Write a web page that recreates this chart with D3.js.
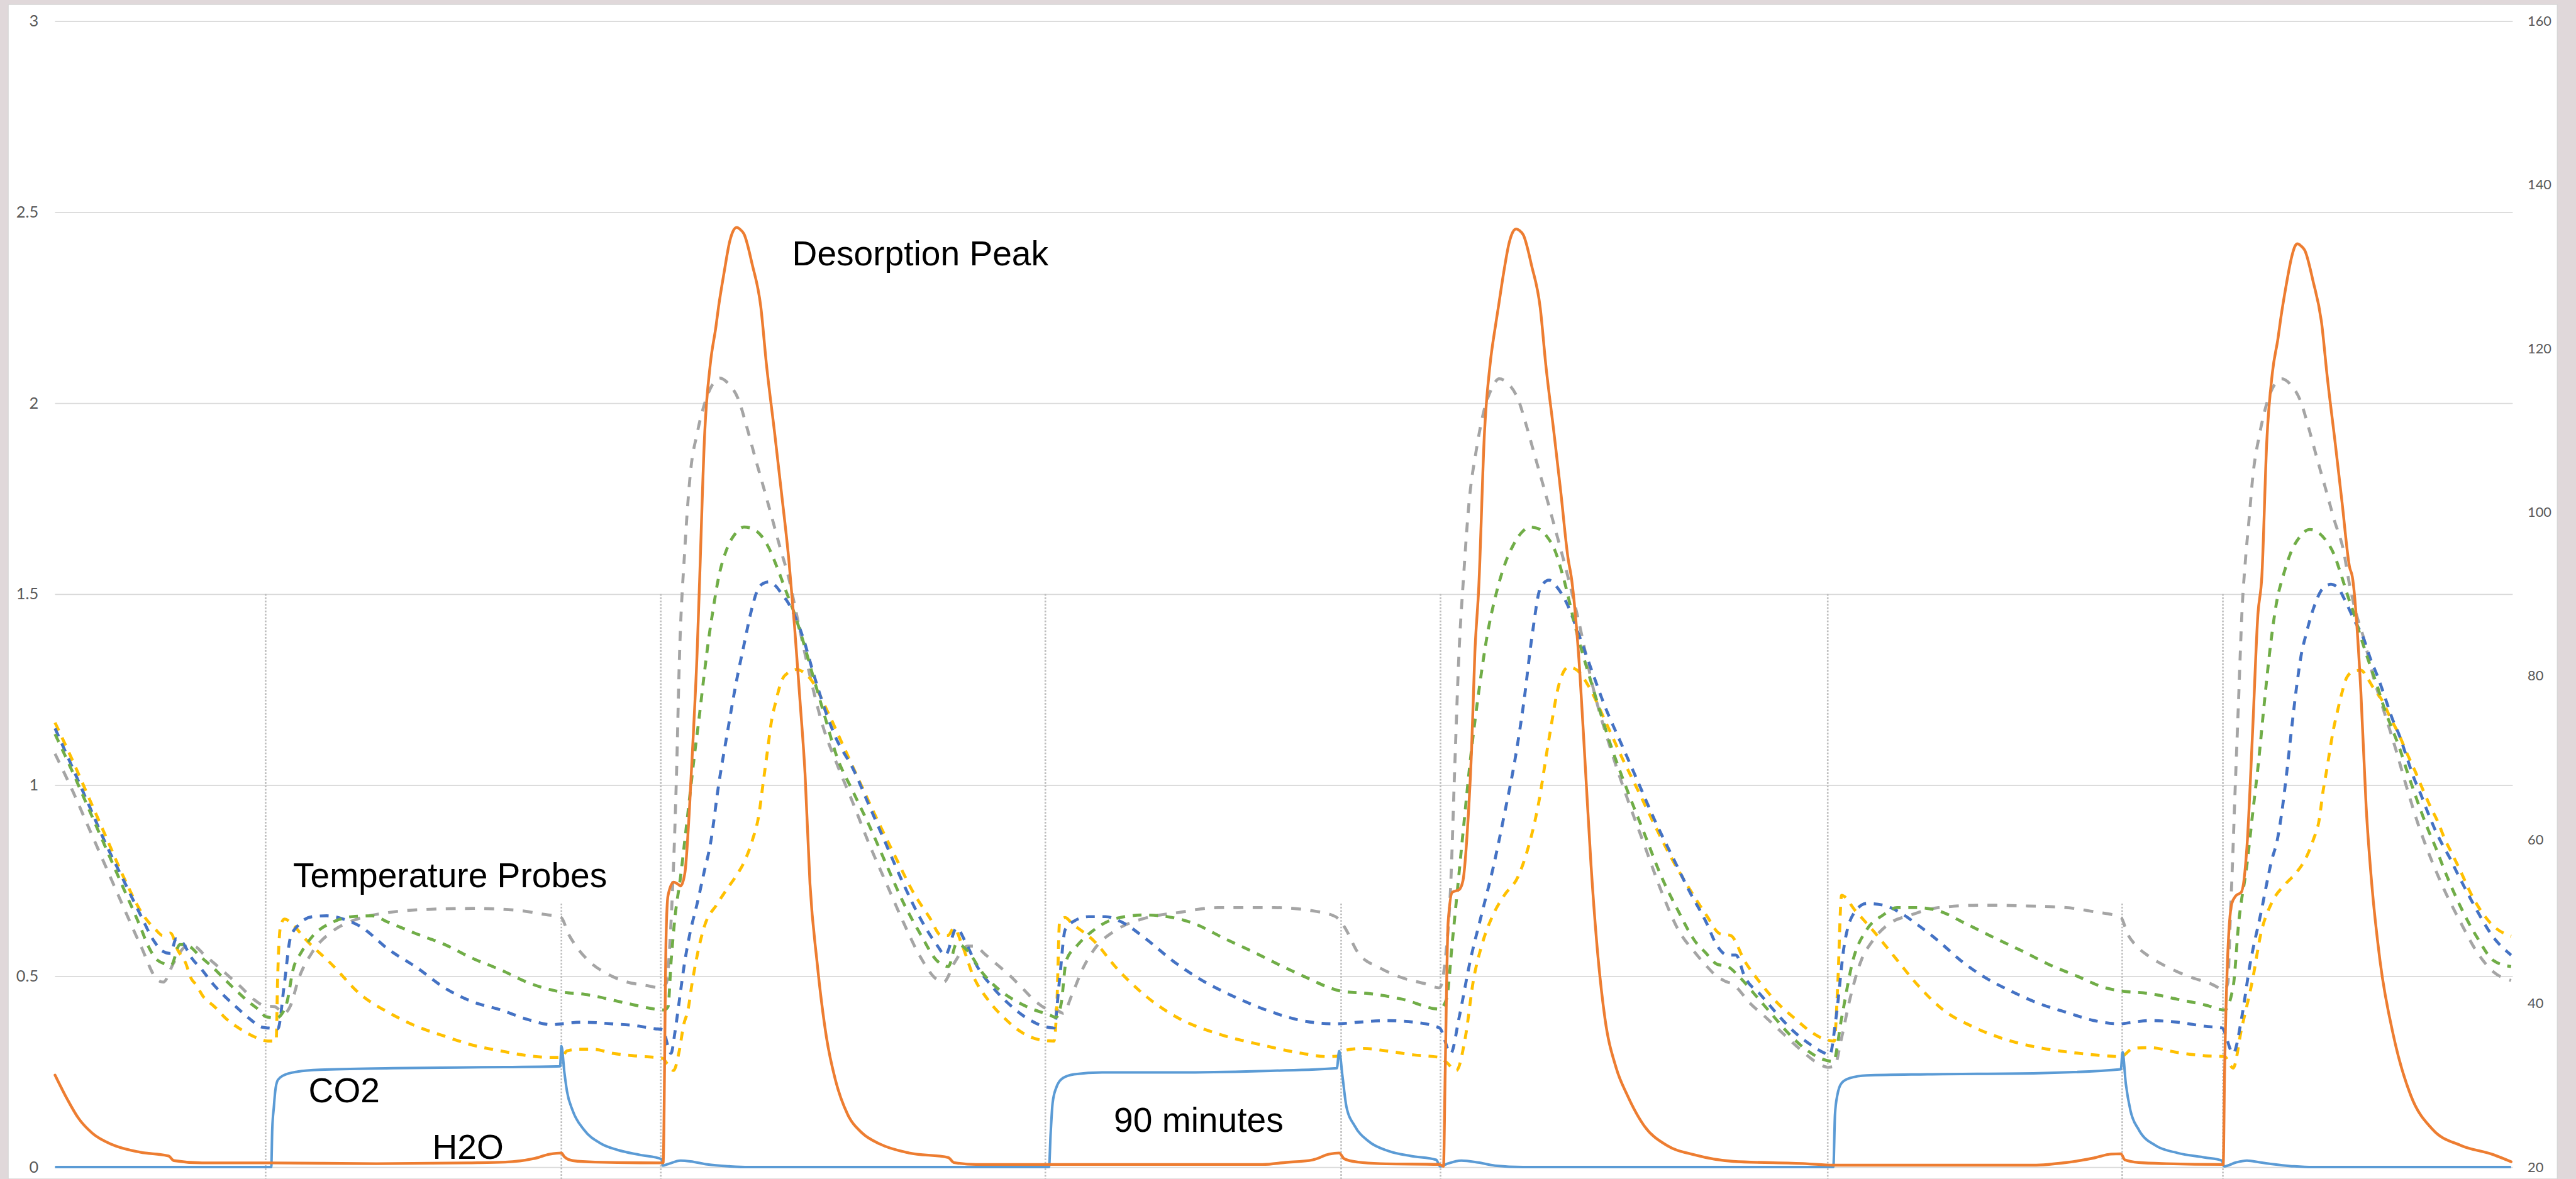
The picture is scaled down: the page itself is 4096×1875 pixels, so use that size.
<!DOCTYPE html>
<html>
<head>
<meta charset="utf-8">
<script src="https://cdn.jsdelivr.net/npm/d3@7"></script>
<style>
  html, body { margin: 0; padding: 0; background: #e0d8da; overflow: hidden; }
</style>
</head>
<body>
<div id="chart-container"></div>
<script>
// time axis is in minutes, left axis is gas signal, right axis is temperature (C)

// orange solid line (H2O / desorption peak), [minutes, signal]
const h2o = [[0,.241],[3.7,.178],[7.1,.128],[11.4,.088],[17.3,.059],[25.8,.039],[34.4,.029],[36,.017],[44.5,.011],[65,.011],[97.3,.009],[125,.011],[136.4,.013],[144.9,.022],[150,.034],[153.4,.037],[154.3,.027],[156.8,.017],[163.6,.013],[184.2,.011],[185.1,.6],[185.7,.711],[187.4,.746],[188.5,.742],[189.5,.736],[190.8,.77],[192.2,.94],[193.4,1.14],[194.5,1.345],[195.2,1.52],[196.8,1.921],[198.5,2.102],[200.2,2.2],[201,2.252],[202.7,2.343],[204.4,2.424],[205.5,2.452],[206.5,2.46],[207.5,2.455],[208.7,2.443],[211.2,2.363],[213.8,2.252],[215.5,2.102],[218,1.921],[220,1.77],[222.3,1.589],[224,1.418],[225.7,1.218],[227.2,1.03],[228.7,.741],[230.8,.54],[233.7,.339],[236.4,.228],[240.1,.138],[244.4,.09],[250,.06],[258.7,.037],[270.6,.025],[272.3,.012],[279,.007],[365.8,.007],[372.6,.012],[381,.019],[386,.034],[389,.037],[390.5,.022],[394.7,.013],[401.5,.009],[419.4,.007],[420.6,.002],[421.1,.24],[422,.64],[423.3,.72],[425.3,.726],[426.5,.75],[427.9,.89],[429.1,1.09],[430.1,1.345],[431.3,1.52],[433,1.92],[434.7,2.1],[436.3,2.2],[437.2,2.25],[438.8,2.34],[440.5,2.42],[441.6,2.448],[442.6,2.456],[443.6,2.452],[444.8,2.44],[447.3,2.36],[449.9,2.25],[451.6,2.1],[454.1,1.92],[456.1,1.77],[458.4,1.59],[459.3,1.546],[461.9,1.295],[463.6,1.043],[465.3,.79],[467,.59],[469.5,.39],[472.9,.26],[476.3,.188],[481.4,.108],[488.2,.057],[496.7,.032],[508.4,.015],[530.3,.009],[538.7,.005],[599.2,.005],[609.3,.012],[617.7,.024],[622.8,.034],[625.8,.035],[627,.019],[631.2,.012],[639.6,.009],[656.8,.007],[657.2,.24],[658.1,.54],[659.4,.69],[660.6,.71],[662.3,.72],[664,.84],[665.7,1.14],[667.3,1.446],[668.5,1.546],[670,1.9],[671.7,2.08],[673.4,2.17],[674.2,2.22],[675.9,2.31],[677.6,2.385],[678.5,2.41],[679.3,2.417],[680.3,2.412],[681.5,2.4],[684,2.32],[686.6,2.21],[688.3,2.07],[690.8,1.89],[692.8,1.74],[695.1,1.57],[695.9,1.546],[698.5,1.244],[700.1,.943],[701.8,.741],[704.3,.54],[708.5,.339],[713.6,.188],[720.3,.098],[728.7,.057],[738.8,.032],[744,.014]];

// light blue solid line (CO2), [minutes, signal]
const co2 = [[0,0],[65.5,0],[65.8,.098],[66.3,.158],[66.7,.198],[67.5,.228],[69.2,.24],[73.5,.25],[80.3,.255],[102.4,.259],[136.4,.262],[153,.264],[153.4,.317],[154.3,.248],[155.1,.198],[156.8,.148],[160.2,.098],[165.3,.062],[170.4,.045],[177.2,.032],[183.7,.021],[184.1,.004],[185.7,.008],[189.5,.017],[192.5,.015],[197.6,.007],[204.4,.002],[210,0],[301.1,0],[301.6,.088],[302.2,.168],[303.3,.208],[305.3,.233],[308.7,.243],[317.2,.248],[342.7,.248],[368.2,.252],[388.3,.259],[389,.304],[390,.238],[391.2,.158],[393.7,.108],[398,.067],[404,.042],[410.8,.029],[418.4,.019],[419.6,.002],[421.8,.009],[426,.017],[431.1,.012],[436.2,.004],[444.7,0],[538.7,0],[539.2,.138],[539.9,.188],[541.2,.22],[543.7,.233],[548.8,.24],[567.3,.243],[600.9,.246],[625.8,.256],[626.3,.301],[627.3,.218],[628.7,.148],[631.2,.098],[636.2,.057],[643,.037],[651.4,.025],[656.4,.017],[657.1,.002],[660.6,.012],[664,.017],[668.2,.012],[678.3,.002],[684,0],[744,0]];

// temperature probes, [minutes, deg C]
const tempGray = [[0,70.5],[5.4,65.9],[10.5,61.2],[15.6,56.5],[20.7,51.8],[25.9,47.1],[31,42.9],[32.8,42.6],[36,45],[40,47],[42,47],[45.3,45.9],[48.8,44.7],[52.7,43.3],[55.8,42.2],[60.5,40.4],[63.5,39.7],[66.5,39.6],[69.5,38.8],[71.3,39.7],[73.8,43],[78,46.3],[84,48.8],[90.8,50.2],[101,51.1],[113.8,51.5],[126.5,51.6],[139.3,51.4],[147.8,50.9],[153.3,50.5],[155.5,48.5],[158,46.9],[162.2,45],[167.3,43.6],[172.5,42.7],[178.9,42.2],[183.7,41.9],[185.2,42.5],[186.6,49.9],[188.3,68.5],[189.1,81.5],[190.8,95.6],[192.5,104.9],[194.5,109.6],[196.8,113.3],[199.3,115.7],[201.3,116.4],[204,115.7],[207,113.8],[209.5,110.5],[212,106.8],[214.6,103.1],[217.2,99.3],[219.7,95.6],[222.3,91.9],[224.8,87.2],[227.3,82.5],[230,77.8],[232.5,74],[236.7,69.4],[241.7,64.5],[246.8,59.3],[251.9,54.6],[257,49.9],[262.1,45.7],[267.2,42.9],[269.2,42.6],[272.5,45],[276.5,47],[278.5,47],[282,45.9],[285.5,44.7],[289.5,43.3],[292.7,42],[297.8,40],[300.3,39.4],[302.9,39.3],[305.4,38.8],[308,41],[311.4,44.3],[314.8,46.6],[321.6,49],[330.1,50.4],[340.3,51.1],[352.2,51.7],[369.2,51.7],[381.1,51.3],[387.9,50.6],[390.5,49.4],[394.7,46.2],[401.5,44.3],[408.3,43.1],[415.1,42.4],[419.4,41.9],[421.1,45.2],[422.8,54.6],[424,68.7],[425.3,82.8],[426.7,92.2],[428.3,101],[430.5,107.5],[432.8,112.3],[435.3,115.2],[437.5,116.3],[440.2,115.7],[443.2,113.8],[445.7,110.6],[448.2,107],[450.8,103.3],[453.4,99.5],[455.9,95.8],[458.5,91.8],[461.1,87.5],[466.2,78.1],[471.3,71],[476.4,64.9],[481.5,59.3],[486.6,53.7],[491.7,49],[496.8,46.2],[500,44.7],[503.4,43.3],[506,42.7],[508.4,42.3],[513.5,40],[518.5,38.2],[523.5,36.3],[528.6,34.4],[533.6,32.8],[537,32.2],[539,32.3],[541.2,35.8],[543.7,40.5],[547.1,45.2],[550.5,47.6],[555.5,49.7],[562.2,50.8],[570.6,51.7],[584.1,52],[597.5,51.9],[609.3,51.7],[617.7,51.2],[625.8,50.5],[627.8,48.5],[630.3,47.1],[634.5,45.7],[639.6,44.5],[646.3,43.3],[653,42.4],[657.2,41.7],[658.2,42.5],[658.9,49.9],[659.6,57],[660.4,66],[661.4,76.5],[662.5,88],[663.6,94.5],[664.6,99],[665.8,104.5],[667.8,109.5],[670,113.3],[672.5,115.7],[674.5,116.3],[677.2,115.6],[680.2,113.6],[682.7,110.3],[685.2,106.6],[687.8,102.9],[690.4,99.1],[693.3,95.2],[695,91.3],[697.1,87.6],[699.3,84.7],[702.2,80],[705.8,75.3],[709.1,71],[712.3,66.5],[716,61.7],[719.6,57.8],[722.5,55],[728.7,49.9],[733.8,46.2],[738.8,43.8],[744,42.8]];

const tempYellow = [[0,74.3],[5.4,69.6],[10.5,64.9],[15.6,60.2],[20.7,55.5],[26.7,50.8],[30.5,49],[32.6,48.3],[35,48.6],[37.2,46.5],[39.5,45],[41.3,43],[42.7,42.3],[44.8,40.9],[48.3,39.6],[52.2,38],[56,36.9],[60.5,35.9],[64.5,35.4],[67,35.4],[67.4,42.5],[68.3,49.4],[69.5,50.3],[72.1,49.6],[75.5,48],[84,44.7],[92.5,41.1],[101,38.9],[109.5,37.2],[118,36],[126.5,34.9],[135,34.2],[143.5,33.6],[150,33.4],[153.4,33.4],[155.1,34.2],[158.8,34.4],[163,34.4],[169,33.9],[175.5,33.6],[181.8,33.4],[184,33.3],[185.5,32.6],[187.4,31.8],[189,34],[190.5,37.5],[191.7,39.1],[193,42.5],[194.2,45.2],[196.7,49.4],[200.5,52.1],[203.6,54],[206.2,55.5],[208.8,57.3],[211.3,60],[213.2,63],[214.5,66.9],[215.8,70.8],[217,74.4],[218.3,76.8],[220.2,79.5],[222.1,80.4],[224.7,80.8],[226.6,80.5],[229.1,79.5],[234.2,75.5],[239.3,71],[244.4,66.5],[249.6,62],[254.7,57.8],[259.8,53.7],[264.9,50.5],[268.5,48.3],[270.5,48.3],[272.3,49.2],[274.8,47.1],[278.2,43.3],[282.5,40.5],[287.6,38.2],[292.7,36.5],[297.8,35.6],[302.6,35.4],[303.5,40],[304.3,49.9],[306,50.5],[308,49.8],[314.8,47.6],[321.6,44.3],[330.1,41],[340.3,38.2],[352.2,36.3],[365.8,34.9],[377.7,33.9],[385.4,33.5],[389.3,33.6],[391.3,34.3],[396.4,34.5],[403.2,34.2],[411.7,33.7],[419.4,33.4],[421.5,32.8],[424.5,31.8],[427.2,35.8],[429.7,42.9],[432.2,47.1],[435.6,50.8],[439,53.2],[443.2,55.5],[445.8,58.4],[449.2,64],[452.6,72.4],[455.6,79],[458.5,81.1],[461.1,80.7],[464.5,78.8],[469.6,74.5],[474.7,70],[479.8,65.8],[484.9,61.5],[490,57.5],[495.1,54],[500.2,50.8],[504.4,48.5],[507.6,48.3],[511.8,45.2],[516.8,42.4],[521.9,40],[526.9,38.2],[532,36.5],[536.2,35.6],[539,35.4],[540,42],[541.2,53.2],[545.4,51.3],[550.5,49],[557.2,45.7],[563.9,42.4],[572.3,39.1],[580.7,37.2],[590.8,35.6],[600.9,34.6],[611,34],[621.1,33.6],[625.8,33.5],[629.5,34.5],[634.5,34.6],[643,34],[651.4,33.6],[657.2,33.5],[659.8,32.1],[662.3,36.8],[665.7,42.9],[668.2,48.5],[671.5,52.3],[675.7,54.6],[679,56],[681.9,57.8],[684.1,60],[685.9,62.5],[687,65.8],[688.1,68.4],[689.1,70.9],[690.2,73.5],[691.3,75.5],[692.8,78],[694.2,79.8],[696.4,80.6],[698.5,80.7],[700.7,79.6],[702.2,78.6],[705.1,76.9],[707.3,75],[710.2,72.7],[712.3,70.7],[714.9,68.4],[717.4,66],[719.6,64],[721.8,62.2],[723.9,60.1],[726.1,58.3],[728.3,56.5],[732.1,53.2],[738.8,49.4],[744,48.2]];

const tempBlue = [[0,73.6],[5.4,68.7],[10.5,64],[15.6,59.3],[20.7,55.1],[25.9,50.8],[30,47.6],[32.5,46.4],[35,46.1],[36.7,47.9],[38.5,47.5],[41.3,45.6],[44.5,44.1],[47.8,42.4],[51.3,40.9],[54.8,39.6],[58.7,38.2],[62.7,37.1],[64.5,37],[67.5,36.9],[69.5,42.5],[71.3,48],[73.8,49.6],[78,50.6],[82.3,50.7],[87.4,50.3],[92.5,49.4],[101,46.6],[109.5,44.4],[118,41.9],[126.5,40.2],[135,39.2],[143.5,38],[150.3,37.4],[153.3,37.5],[159.7,37.7],[169,37.5],[175.5,37.3],[181.8,36.9],[184,36.8],[186.6,33.9],[187.8,36.5],[189,40],[190.8,45.2],[192.2,48.3],[194.7,52.5],[196.6,56],[198.5,59.4],[201.1,66.9],[203.6,72.9],[206.2,78.9],[208.8,84],[210.7,87.6],[212.6,90.3],[214.5,91.3],[216.4,91.5],[218.3,91],[220.2,90],[222.3,88.8],[224,87.4],[226.5,84.8],[229.9,80.1],[233.3,75.8],[236.7,72.3],[241.7,68.7],[246.8,64],[251.9,59.3],[257,54.6],[262.1,50.4],[267.2,47.1],[269.7,45.9],[273.1,49.2],[275.7,47.6],[279.1,44.7],[284.2,41.9],[289.3,39.8],[294.4,38.2],[299.5,37.2],[302.6,37],[304.3,42.9],[306,49],[308.9,50.1],[313.1,50.6],[318.2,50.6],[323.3,49.9],[330.1,48],[338.6,45.2],[347.1,42.9],[357.3,40.8],[367.5,39.1],[377.7,37.9],[388,37.5],[394.7,37.7],[403.2,37.9],[411.7,37.7],[419.4,37],[422.8,33.9],[425.3,38.2],[428.7,45.2],[432.1,50.8],[435.6,56.5],[439,63],[442.4,70.1],[444.9,76.7],[447.5,85.1],[450,90.8],[452.6,91.7],[455.1,90.8],[458.5,88.4],[461.1,85.6],[464.5,81.8],[469.6,76.2],[474.7,71.5],[479.8,66.8],[484.9,62.1],[490,57.9],[495.1,53.7],[500.2,49.9],[503.4,47.1],[506.7,45.9],[509.2,45.9],[511.8,43.3],[516.8,41],[521.9,38.6],[526.9,36.5],[532,34.9],[536.2,33.9],[537.6,33.7],[539.5,38.2],[542,47.1],[544.6,50.8],[548.8,52.2],[553.8,52],[558.9,51.1],[563.9,49.7],[570.6,47.6],[577.4,45.2],[584.1,43.3],[592.5,41.5],[600.9,40],[609.3,38.9],[617.7,37.9],[625.3,37.5],[629.5,37.7],[634.5,37.9],[643,37.7],[651.4,37.2],[656.4,37],[659.8,33.9],[662.5,38.5],[664.8,44.5],[668.2,51],[671.5,57.5],[673.2,60],[674.6,63.5],[676.1,68.4],[677.5,73.5],[679,78.6],[680.4,82.5],[681.9,85.1],[684.1,88.2],[687,90.7],[689.5,91.2],[691.7,90.7],[693.5,89.4],[696.4,86.9],[699.3,84.6],[701.5,82],[703.6,79.9],[705.8,77.4],[708,74.8],[710.2,72.7],[712.3,70.2],[714.5,67.6],[716.7,65.5],[718.9,63.2],[721,61.2],[723.2,59.4],[725.4,57.8],[727.6,56],[732.1,52.5],[738.8,48],[744,45.9]];

const tempGreen = [[0,72.9],[5.4,68.2],[10.5,63.5],[15.6,58.8],[20.7,54.1],[25.9,49.3],[28,47.2],[31.3,45.2],[35.2,44.7],[37.8,47.2],[40.5,47],[43.8,45.8],[47.8,44.4],[51.5,42.9],[54.8,41.6],[58.3,40.3],[62.3,39],[63.7,38.4],[67,38.2],[68.5,38.6],[70.3,40.2],[72.1,44.1],[74.7,46.3],[78,48.2],[84,49.9],[90,50.6],[96,50.7],[101,49.9],[109.5,48.5],[118,47.2],[126.5,45.5],[135,44.1],[143.5,42.5],[152,41.5],[153.3,41.4],[160.5,41.1],[173.3,40],[181.8,39.3],[184.5,39.2],[185.7,39.6],[186.6,45],[187.8,50.5],[189.5,55.5],[190.8,60],[192.2,65],[193.6,70],[195,74.5],[196.6,80],[198,84.5],[199.3,88],[201,92],[203.5,95.5],[206.1,97.4],[208.7,98.2],[211.2,98],[213.8,97.2],[216.3,95.6],[218.8,93.2],[221.4,90.4],[224,87.6],[226.5,84.4],[229.9,79.6],[233.3,74.9],[236.7,70.3],[241.7,65.9],[246.8,61.6],[251.9,56.9],[257,52.3],[262.1,48.5],[267.2,45.2],[270.6,44.5],[273.1,47.3],[276.5,46.4],[280.8,43.8],[285.9,41.7],[291,40.3],[296.1,39.3],[301.2,38.6],[303.2,38.3],[304.8,40],[306.3,45.2],[309.7,47.1],[314.8,49],[321.6,50.4],[330.1,50.8],[336.9,50.6],[345.4,49.7],[353.9,48],[362.4,46.4],[370.9,44.7],[379.4,43.1],[386.2,41.9],[389.6,41.5],[398.1,41.2],[408.3,40.5],[419.4,39.3],[421.5,40.5],[423.3,47.6],[425,54.6],[426.7,61.6],[428.7,69.6],[431.3,78.1],[433.9,85.1],[436.4,89.8],[438.8,93.2],[441.5,95.8],[444.2,97.5],[446.8,98.2],[449.3,98],[451.8,97.1],[454.3,95.4],[456.8,92.2],[461.1,85.1],[466.2,78.1],[471.3,71.5],[476.4,65.9],[481.5,60.7],[486.6,55.5],[491.7,51.3],[496.8,47.6],[500,46.2],[503.4,44.8],[506.7,44.5],[510.1,43.3],[515.1,41],[520.2,38.6],[525.2,36.3],[530.3,34.4],[535.3,33.2],[538.7,32.9],[541.2,38.2],[544.6,45.2],[548.8,49],[553.8,50.8],[558,51.7],[563.9,51.7],[570.6,51.3],[579,49.7],[587.5,48],[595.9,46.4],[604.3,44.7],[612.7,43.3],[621.1,41.9],[626.1,41.5],[634.5,41.2],[643,40.5],[651.4,39.8],[657.2,39.2],[659.8,42],[661.5,49.9],[664,57],[665.8,63.5],[667.5,69.5],[669.2,76.5],[671.2,84],[673.2,89.5],[674.8,92],[677.2,95],[680,97],[683,97.9],[686,97.4],[688.2,96.4],[690.2,95],[692.8,92],[694.6,89.7],[696.4,87.6],[698.2,85.1],[700.7,82],[703.6,78.6],[705.8,75.8],[708,73.5],[710.2,71.2],[712.3,68.6],[714.5,66],[716.7,63.5],[718.9,61.2],[721.4,58.8],[723.5,56.6],[728.7,51.8],[733.8,48],[738.8,45.2],[744,44.5]];

// valve switch markers: time and top of the dotted line (left axis units)
const markerTimes = [63.8, 153.4, 183.5, 300, 389.6, 419.7, 537, 626.2, 656.7];
const markerTops  = [1.5, 0.69, 1.5, 1.5, 0.69, 1.5, 1.5, 0.69, 1.5];

// tick values
const leftTicks  = [0, 0.5, 1, 1.5, 2, 2.5, 3];
const rightTicks = [20, 40, 60, 80, 100, 120, 140, 160];

// annotations, anchored at [minutes, left axis value]
const labelTexts = ["Desorption Peak", "Temperature Probes", "CO2", "H2O", "90 minutes"];
const labelAnchors = [[223.3, 2.36], [72.1, 0.7326], [76.8, 0.1692], [114.3, 0.0223], [320.75, 0.0929]];

// drawing in reference pixel space, scaled down by the viewBox
const W = 4682, H = 2143;

const svg = d3.select("#chart-container").append("svg")
    .attr("width", 4096)
    .attr("height", 1875)
    .attr("viewBox", `0 0 ${W} ${H}`)
    .style("display", "block");

svg.append("rect").attr("width", W).attr("height", H).attr("fill", "#e0d8da");
svg.append("rect")
    .attr("x", 15).attr("y", 8)
    .attr("width", 4633).attr("height", H - 8)
    .attr("fill", "#ffffff")
    .attr("stroke", "#d6d6d6")
    .attr("stroke-width", 1.5);

const plotLeft = 100, plotRight = 4567;

const x = d3.scaleLinear().domain([0, 744.5]).range([plotLeft, plotRight]);
const yL = d3.scaleLinear().domain([0, 3]).range([2121.5, 38.3]);
const yR = d3.scaleLinear().domain([20, 160]).range([2121.5, 38.3]);

// left axis with gridlines
const gLeft = svg.append("g")
    .attr("transform", `translate(${plotLeft},0)`)
    .call(d3.axisLeft(yL)
        .tickValues(leftTicks)
        .tickSize(-(plotRight - plotLeft))
        .tickPadding(30)
        .tickFormat(d3.format("")));
gLeft.select(".domain").remove();
gLeft.selectAll(".tick line").attr("stroke", "#d9d9d9").attr("stroke-width", 2);
gLeft.selectAll(".tick text")
    .attr("fill", "#595959")
    .style("font-family", "Lato, 'Open Sans', sans-serif")
    .style("font-size", "29px");

// right axis, labels only
const gRight = svg.append("g")
    .attr("transform", `translate(${plotRight},0)`)
    .call(d3.axisRight(yR)
        .tickValues(rightTicks)
        .tickSize(0)
        .tickPadding(27));
gRight.select(".domain").remove();
gRight.selectAll(".tick text")
    .attr("fill", "#595959")
    .style("font-family", "Lato, 'Open Sans', sans-serif")
    .style("font-size", "25px");

// dotted markers
svg.append("g")
    .selectAll("line")
    .data(markerTimes.map((t, i) => [t, markerTops[i]]))
    .join("line")
    .attr("x1", d => x(d[0]))
    .attr("x2", d => x(d[0]))
    .attr("y1", d => yL(d[1]))
    .attr("y2", H)
    .attr("stroke", "#bdbdbd")
    .attr("stroke-width", 3)
    .attr("stroke-dasharray", "3 3");

const lineLeft = d3.line()
    .x(d => x(d[0]))
    .y(d => yL(d[1]))
    .curve(d3.curveMonotoneX);

const lineRight = d3.line()
    .x(d => x(d[0]))
    .y(d => yR(d[1]))
    .curve(d3.curveMonotoneX);

// temperature probes (dashed)
const probes = [
    { data: tempGray,   color: "#a5a5a5", dash: "18 17" },
    { data: tempYellow, color: "#ffc000", dash: "16 14" },
    { data: tempBlue,   color: "#4472c4", dash: "16 14" },
    { data: tempGreen,  color: "#70ad47", dash: "16 14" }
];

svg.append("g")
    .selectAll("path")
    .data(probes)
    .join("path")
    .attr("d", d => lineRight(d.data))
    .attr("fill", "none")
    .attr("stroke", d => d.color)
    .attr("stroke-width", 5.4)
    .attr("stroke-dasharray", d => d.dash);

// gas signals
svg.append("path")
    .attr("d", lineLeft(co2))
    .attr("fill", "none")
    .attr("stroke", "#5b9bd5")
    .attr("stroke-width", 4.6)
    .attr("stroke-linejoin", "round");

svg.append("path")
    .attr("d", lineLeft(h2o))
    .attr("fill", "none")
    .attr("stroke", "#ed7d31")
    .attr("stroke-width", 5)
    .attr("stroke-linejoin", "round")
    .attr("stroke-linecap", "round");

// annotations
svg.append("g")
    .selectAll("text")
    .data(labelTexts.map((s, i) => ({ text: s, at: labelAnchors[i] })))
    .join("text")
    .attr("x", d => x(d.at[0]))
    .attr("y", d => yL(d.at[1]))
    .attr("fill", "#000")
    .style("font-family", "'Liberation Sans', Arial, sans-serif")
    .style("font-size", "63px")
    .text(d => d.text);
</script>
</body>
</html>
